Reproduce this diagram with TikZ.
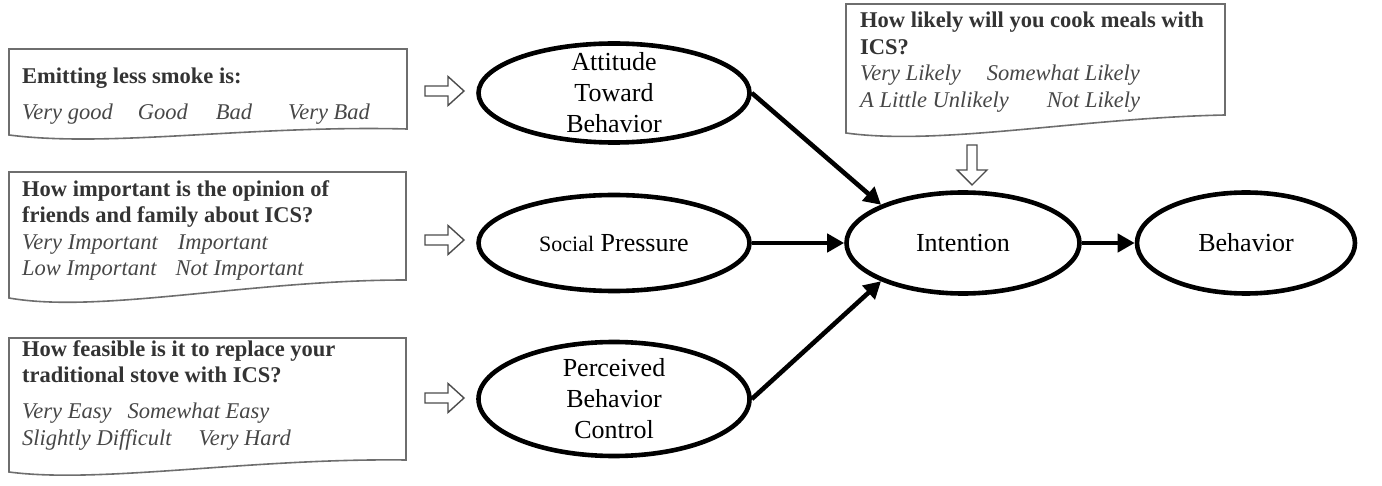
\documentclass[tikz,border=0pt]{standalone}
\usepackage{fontspec}
\setmainfont{Liberation Serif}
\usepackage{tikz}
\usetikzlibrary{arrows.meta,shapes.geometric}
\definecolor{qtext}{HTML}{333333}
\definecolor{opttext}{HTML}{474747}
\definecolor{qline}{HTML}{6E6E6E}
\tikzset{
  tpb/.style={x=1pt, y=-1pt, >={Triangle[length=17pt,width=18pt]}},
  oval/.style={draw, ellipse, line width=4.6pt, inner sep=0pt},
  ovaltext/.style={align=center, inner sep=0pt, font=\fontsize{26}{31}\selectfont},
  qbox/.style={draw=qline, line width=1.6pt, fill=white},
  qtext/.style={anchor=north west, align=left, inner sep=0pt, text=qtext, font=\fontsize{22.5}{26.5}\selectfont},
  link/.style={->, line width=4.6pt},
  hollow/.style={draw=black!70, line width=1.4pt, fill=white},
  rarrow/.pic={\path[hollow] (-19.5,-5) -- (3.5,-5) -- (3.5,-14.5) -- (19.5,0) -- (3.5,14.5) -- (3.5,5) -- (-19.5,5) -- cycle;},
  darrow/.pic={\path[hollow] (-5,-20) -- (-5,5) -- (-15,5) -- (0,20) -- (15,5) -- (5,5) -- (5,-20) -- cycle;}
}
\newcommand{\opt}[1]{\textit{\textcolor{opttext}{#1}}}

\begin{document}
\begin{tikzpicture}[tpb]
\useasboundingbox (0,0) rectangle (1382,486);
% question boxes
\path[qbox] (9,49) -- (407,49) -- (407,129) .. controls (250,125) and (110,148) .. (9,135) -- cycle;
\path[qbox] (9,172) -- (406,172) -- (406,280) .. controls (250,280) and (100,314) .. (9,298) -- cycle;
\path[qbox] (9,338) -- (406,338) -- (406,460) .. controls (250,458) and (100,484) .. (9,472) -- cycle;
\path[qbox] (846,4) -- (1225,4) -- (1225,115) .. controls (1080,118) and (940,146) .. (846,133) -- cycle;
\node[qtext] (q1) at (22,68) {\textbf{Emitting less smoke is:}\\[9.5pt]
  \opt{Very good\hspace{25pt}Good\hspace{28pt}Bad\hspace{36pt}Very Bad}};
\node[qtext] (q2) at (22,180) {\textbf{How important is the opinion of}\\
  \textbf{friends and family about ICS?}\\
  \opt{Very Important\hspace{20pt}Important}\\
  \opt{Low Important\hspace{19pt}Not Important}};
\node[qtext] (q3) at (22,340) {\textbf{How feasible is it to replace your}\\
  \textbf{traditional stove with ICS?}\\[9.5pt]
  \opt{Very Easy\hspace{16pt}Somewhat Easy}\\
  \opt{Slightly Difficult\hspace{27pt}Very Hard}};
\node[qtext] (q4) at (860,12) {\textbf{How likely will you cook meals with}\\
  \textbf{ICS?}\\
  \opt{Very Likely\hspace{26pt}Somewhat Likely}\\
  \opt{A Little Unlikely\hspace{38pt}Not Likely}};
% constructs
\node[oval, minimum width=271, minimum height=99] (att) at (614,93) {};
\node[oval, minimum width=271, minimum height=96] (soc) at (614,243) {};
\node[oval, minimum width=271, minimum height=114] (pbc) at (614,399) {};
\node[oval, minimum width=233, minimum height=101] (intent) at (963,243) {};
\node[oval, minimum width=218, minimum height=101] (behav) at (1246,243) {};
\node[ovaltext] (attT) at (att) {Attitude\\Toward\\Behavior};
\node[ovaltext] (socT) at (soc) {{\fontsize{22}{26}\selectfont Social} Pressure};
\node[ovaltext] (pbcT) at (pbc) {Perceived\\Behavior\\Control};
\node[ovaltext] (intentT) at (intent) {Intention};
\node[ovaltext] (behavT) at (behav) {Behavior};
% hollow arrows
\pic at (444.5,91) {rarrow};
\pic at (444.5,240) {rarrow};
\pic at (444.5,398) {rarrow};
\pic at (972,165) {darrow};
% paths
\draw[link] (att.east) -- (intent.155);
\draw[link] (soc.east) -- (intent.west);
\draw[link] (pbc.east) -- (intent.205);
\draw[link] (intent.east) -- (behav.west);
\end{tikzpicture}
\end{document}
